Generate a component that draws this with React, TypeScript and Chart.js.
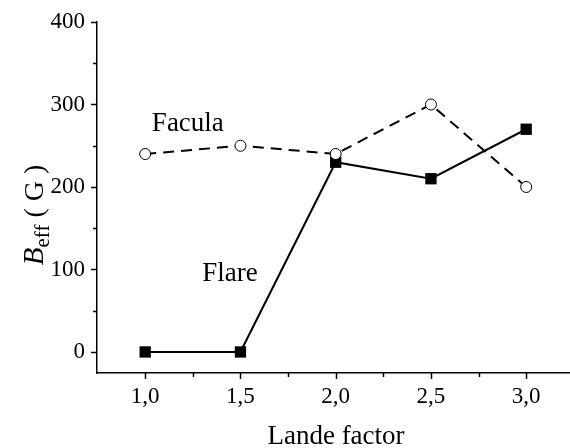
import React, { useEffect, useRef } from "react";
import { Chart, registerables } from "chart.js";

Chart.register(...registerables);

const landeFactors = [1.0, 1.5, 2.0, 2.5, 3.0];
const faculaValues = [240, 250, 240, 300, 200];
const flareValues = [0, 0, 230, 210, 270];
const yTickValues = [0, 50, 100, 150, 200, 250, 300, 350, 400];
const xTickValues = [1.0, 1.25, 1.5, 1.75, 2.0, 2.25, 2.5, 2.75, 3.0];
const xTitle = "Lande factor";
const faculaLabel = "Facula";
const flareLabel = "Flare";

const SERIF = "'Liberation Serif', 'Times New Roman', serif";
const VIEW_W = 570;
const CANVAS_W = 578;
const CANVAS_H = 448;

const isMajorX = (v: number) => Math.abs(v * 2 - Math.round(v * 2)) < 1e-6;

const zeroPad = (scale: any) => {
  scale.paddingLeft = 0;
  scale.paddingRight = 0;
  scale.paddingTop = 0;
  scale.paddingBottom = 0;
};

const decorPlugin = {
  id: "decor",
  afterDraw(chart: any) {
    const ctx = chart.ctx;
    const xs = chart.scales.x;
    const ys = chart.scales.y;
    const area = chart.chartArea;
    ctx.save();
    ctx.strokeStyle = "#000";
    ctx.lineWidth = 1.5;
    yTickValues.forEach((v) => {
      const py = Math.round(ys.getPixelForValue(v)) + 0.5;
      const len = v % 100 === 0 ? 6 : 4;
      ctx.beginPath();
      ctx.moveTo(area.left, py);
      ctx.lineTo(area.left - len, py);
      ctx.stroke();
    });
    ctx.fillStyle = "#000";
    ctx.font = `23px ${SERIF}`;
    ctx.textAlign = "center";
    ctx.textBaseline = "top";
    xTickValues.forEach((v) => {
      const px = Math.round(xs.getPixelForValue(v)) + 0.5;
      const len = isMajorX(v) ? 6 : 4;
      ctx.beginPath();
      ctx.moveTo(px, area.bottom);
      ctx.lineTo(px, area.bottom + len);
      ctx.stroke();
      if (isMajorX(v)) {
        ctx.fillText(v.toFixed(1).replace(".", ","), xs.getPixelForValue(v), area.bottom + 12);
      }
    });
    ctx.font = `27px ${SERIF}`;
    ctx.textAlign = "center";
    ctx.textBaseline = "middle";
    ctx.fillText(xTitle, 336, 437);
    ctx.textAlign = "left";
    ctx.fillText(faculaLabel, xs.getPixelForValue(1.035), ys.getPixelForValue(277));
    ctx.fillText(flareLabel, xs.getPixelForValue(1.3), ys.getPixelForValue(95));
    ctx.translate(33, 215);
    ctx.rotate(-Math.PI / 2);
    ctx.textBaseline = "alphabetic";
    const parts = [
      { t: "B", f: `italic 29px ${SERIF}`, dy: 0 },
      { t: "eff", f: `21px ${SERIF}`, dy: 6 },
      { t: " ( G )", f: `28px ${SERIF}`, dy: 0 },
    ];
    let total = 0;
    parts.forEach((p) => {
      ctx.font = p.f;
      total += ctx.measureText(p.t).width;
    });
    let cx = -total / 2;
    parts.forEach((p) => {
      ctx.font = p.f;
      ctx.fillText(p.t, cx, 10 + p.dy);
      cx += ctx.measureText(p.t).width;
    });
    ctx.restore();
  },
};

export default function App() {
  const canvasRef = useRef<HTMLCanvasElement | null>(null);

  useEffect(() => {
    if (!canvasRef.current) return;
    const chart: any = new Chart(canvasRef.current, {
      type: "line",
      data: {
        datasets: [
          {
            label: faculaLabel,
            data: landeFactors.map((x, i) => ({ x, y: faculaValues[i] })),
            borderColor: "#000",
            borderWidth: 2,
            borderDash: [11, 7],
            pointStyle: "circle",
            pointRadius: 5.5,
            pointBackgroundColor: "#fff",
            pointBorderColor: "#000",
            pointBorderWidth: 1,
            tension: 0,
          },
          {
            label: flareLabel,
            data: landeFactors.map((x, i) => ({ x, y: flareValues[i] })),
            borderColor: "#000",
            borderWidth: 2,
            pointStyle: "rect",
            pointRadius: 8,
            pointBackgroundColor: "#000",
            pointBorderColor: "#000",
            pointBorderWidth: 0,
            tension: 0,
          },
        ],
      },
      options: {
        animation: false,
        responsive: false,
        maintainAspectRatio: false,
        layout: { padding: { left: 0, right: 0, top: 22, bottom: 0 } },
        plugins: {
          legend: { display: false },
          tooltip: { enabled: false },
          title: { display: false },
        },
        scales: {
          x: {
            type: "linear",
            min: 0.747,
            max: 3.23,
            afterBuildTicks: (scale: any) => {
              scale.ticks = xTickValues.map((v) => ({ value: v }));
            },
            afterFit: (scale: any) => {
              scale.height = 75;
              zeroPad(scale);
            },
            grid: { display: false, drawOnChartArea: false, drawTicks: false },
            border: { display: true, color: "#000", width: 1.5 },
            ticks: { display: false },
          },
          y: {
            type: "linear",
            min: -25.5,
            max: 400,
            afterBuildTicks: (scale: any) => {
              scale.ticks = yTickValues.map((v) => ({ value: v }));
            },
            afterFit: (scale: any) => {
              scale.width = 97;
              zeroPad(scale);
            },
            grid: {
              drawOnChartArea: false,
              drawTicks: true,
              tickLength: 6,
              tickColor: "rgba(0,0,0,0)",
            },
            border: { display: true, color: "#000", width: 1.5 },
            ticks: {
              autoSkip: false,
              padding: 6,
              color: "#000",
              font: { family: SERIF, size: 23 },
              callback: (v: any) => (Number(v) % 100 === 0 ? String(v) : ""),
            },
          },
        },
      },
      plugins: [decorPlugin],
    });
    return () => chart.destroy();
  }, []);

  return (
    <div
      style={{
        position: "fixed",
        left: 0,
        top: 0,
        width: VIEW_W,
        height: CANVAS_H,
        overflow: "hidden",
        background: "#fff",
      }}
    >
      <canvas
        ref={canvasRef}
        width={CANVAS_W}
        height={CANVAS_H}
        style={{ width: CANVAS_W, height: CANVAS_H, display: "block" }}
      />
    </div>
  );
}
